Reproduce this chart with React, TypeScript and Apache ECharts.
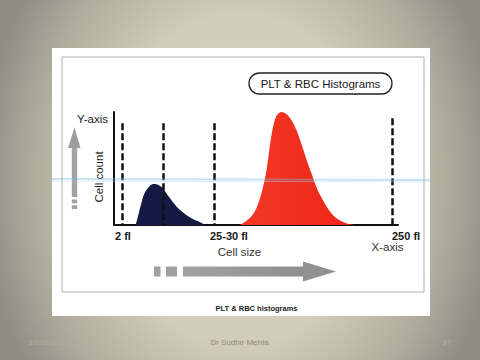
import React, { useEffect, useRef } from "react";
import * as echarts from "echarts";

// Curve data (x in cell-size axis units, y as relative cell count 0-100)
const pltX = [21.7, 24.3, 27.7, 31, 35, 39.3, 42.7, 46, 49.3, 51, 56, 62.7, 71, 79.3, 87.7, 91];
const pltY = [0, 8.8, 20.6, 28.9, 33.9, 36.3, 36, 34.5, 32.5, 30, 23.6, 16.2, 9.7, 5, 1.8, 0];

const rbcX = [126, 132.7, 139.3, 144.3, 149.3, 152.7, 156, 159.3, 162.7, 167.7, 172.7, 177.7, 182.7, 187.7, 192.7, 197.7, 202.7, 207.7, 212.7, 219.3, 226, 234.3, 241];
const rbcY = [0, 3.9, 10, 19.2, 34.5, 49.7, 71, 87.8, 97, 100, 97.9, 92.4, 83.3, 71, 57.4, 45.1, 32.9, 23.8, 16.2, 8.5, 3.9, 0.9, 0];

// Dashed threshold lines (x position, top value)
const dividerX = [8.5, 49, 100, 278.5];
const dividerTop = [90, 90, 90, 94.5];

// Tick labels on the x axis
const xLabels = ["2 fl", "25-30 fl", "250 fl"];
const xLabelValues = [1, 96, 278];

const FONT = "Liberation Sans, Arial, sans-serif";

export default function App() {
  const ref = useRef<HTMLDivElement>(null);
  useEffect(() => {
    if (!ref.current) return;
    const chart = echarts.init(ref.current, null, { renderer: "svg" });
    const pltData = pltX.map((x, i) => [x, pltY[i]]);
    const rbcData = rbcX.map((x, i) => [x, rbcY[i]]);
    const markData = dividerX.map((x, i) => [
      { coord: [x, dividerTop[i]] },
      { coord: [x, 0] },
    ]);
    chart.setOption({
      animation: false,
      grid: { left: 114, top: 112, width: 284, height: 113 },
      xAxis: {
        type: "value",
        min: 0,
        max: 284,
        axisLine: { show: true, lineStyle: { color: "#111", width: 2 } },
        axisTick: { show: false },
        splitLine: { show: false },
        axisLabel: {
          customValues: xLabelValues,
          align: "left",
          margin: 5,
          fontFamily: FONT,
          fontSize: 11,
          fontWeight: "bold",
          color: "#1a1a1a",
          formatter: (v: number) => {
            const idx = xLabelValues.indexOf(v);
            return idx >= 0 ? xLabels[idx] : "";
          },
        },
      },
      yAxis: {
        type: "value",
        min: 0,
        max: 100,
        axisLine: { show: true, lineStyle: { color: "#111", width: 2 } },
        axisTick: { show: false },
        axisLabel: { show: false },
        splitLine: { show: false },
      },
      series: [
        {
          type: "line",
          data: pltData,
          smooth: 0.35,
          showSymbol: false,
          lineStyle: { width: 0 },
          areaStyle: { color: "#151a44", opacity: 1 },
          markLine: {
            silent: true,
            symbol: "none",
            label: { show: false },
            lineStyle: { type: [7, 3], width: 2.5, color: "#111" },
            data: markData,
          },
        },
        {
          type: "line",
          data: rbcData,
          smooth: 0.35,
          showSymbol: false,
          lineStyle: { width: 0 },
          areaStyle: {
            color: new echarts.graphic.LinearGradient(0, 0, 1, 0, [
              { offset: 0, color: "#f33a26" },
              { offset: 1, color: "#ee2418" },
            ]),
            opacity: 1,
          },
        },
      ],
      graphic: [
        { type: "rect", z: -10, shape: { x: 52, y: 48, width: 378, height: 268 }, style: { fill: "#ffffff" } },
        { type: "rect", z: -9, shape: { x: 62, y: 57, width: 362, height: 235 }, style: { fill: "none", stroke: "#b0b0b0", lineWidth: 1 } },
        { type: "rect", shape: { x: 249, y: 73, width: 143, height: 21, r: 10.5 }, style: { fill: "#fff", stroke: "#222", lineWidth: 1.3 } },
        { type: "text", x: 320.5, y: 83.5, style: { text: "PLT & RBC Histograms", fontFamily: FONT, fontSize: 11.5, fill: "#1a1a1a", align: "center", verticalAlign: "middle" } },
        { type: "text", x: 92.5, y: 119, style: { text: "Y-axis", fontFamily: FONT, fontSize: 11.5, fill: "#222", align: "center", verticalAlign: "middle" } },
        { type: "text", x: 99, y: 177, rotation: Math.PI / 2, style: { text: "Cell count", fontFamily: FONT, fontSize: 11.5, fill: "#222", align: "center", verticalAlign: "middle" } },
        { type: "text", x: 239.5, y: 252, style: { text: "Cell size", fontFamily: FONT, fontSize: 11.5, fill: "#333", align: "center", verticalAlign: "middle" } },
        { type: "text", x: 387.5, y: 247, style: { text: "X-axis", fontFamily: FONT, fontSize: 11.5, fill: "#333", align: "center", verticalAlign: "middle" } },
        // up arrow
        { type: "polygon", shape: { points: [[68, 148], [74.5, 127.5], [80.5, 148]] }, style: { fill: "#9d9d9d" } },
        { type: "rect", shape: { x: 71.8, y: 147.5, width: 5.4, height: 49.5 }, style: { fill: "#a3a3a3" } },
        { type: "rect", shape: { x: 71.8, y: 199.5, width: 5.4, height: 3.8 }, style: { fill: "#a3a3a3" } },
        { type: "rect", shape: { x: 71.8, y: 205.3, width: 5.4, height: 3.8 }, style: { fill: "#a3a3a3" } },
        // right arrow
        { type: "rect", shape: { x: 154, y: 266.5, width: 6.5, height: 10 }, style: { fill: "#a0a0a0" } },
        { type: "rect", shape: { x: 166, y: 266.5, width: 11, height: 10 }, style: { fill: "#a0a0a0" } },
        {
          type: "rect",
          shape: { x: 183, y: 266.5, width: 121, height: 10 },
          style: {
            fill: new echarts.graphic.LinearGradient(0, 0, 1, 0, [
              { offset: 0, color: "#a2a2a2" },
              { offset: 1, color: "#8e8e8e" },
            ]),
          },
        },
        { type: "polygon", shape: { points: [[303, 261.5], [336, 271.5], [303, 281.5]] }, style: { fill: "#919191" } },
        // scan streak
        { type: "line", z: 100, shape: { x1: 52, y1: 179, x2: 430, y2: 180 }, style: { stroke: "#6dbbe0", lineWidth: 2, opacity: 0.4 } },
        { type: "line", z: 100, shape: { x1: 52, y1: 181.3, x2: 430, y2: 181.8 }, style: { stroke: "#a9d8ee", lineWidth: 1, opacity: 0.4 } },
        { type: "text", x: 256.5, y: 308, style: { text: "PLT & RBC histograms", fontFamily: FONT, fontSize: 7.5, fontWeight: "bold", fill: "#222", align: "center", verticalAlign: "middle" } },
        // footer
        { type: "text", x: 48.5, y: 342, style: { text: "10/31/2010", fontFamily: FONT, fontSize: 8, fill: "#b0ad9e", align: "center", verticalAlign: "middle" } },
        { type: "text", x: 239.5, y: 342, style: { text: "Dr Sudhir Mehta", fontFamily: FONT, fontSize: 8, fill: "#8a8779", align: "center", verticalAlign: "middle" } },
        { type: "text", x: 447, y: 342, style: { text: "17", fontFamily: FONT, fontSize: 8, fill: "#b4b1a1", align: "center", verticalAlign: "middle" } },
      ],
    });
    return () => chart.dispose();
  }, []);
  return (
    <div
      ref={ref}
      style={{
        position: "absolute",
        left: 0,
        top: 0,
        width: 480,
        height: 360,
        background:
          "radial-gradient(ellipse 260px 330px at 50% 50%, #dcd7c3 0%, #d2cdb9 50%, #aeac9c 80%, #8f8d82 100%)",
      }}
    />
  );
}
